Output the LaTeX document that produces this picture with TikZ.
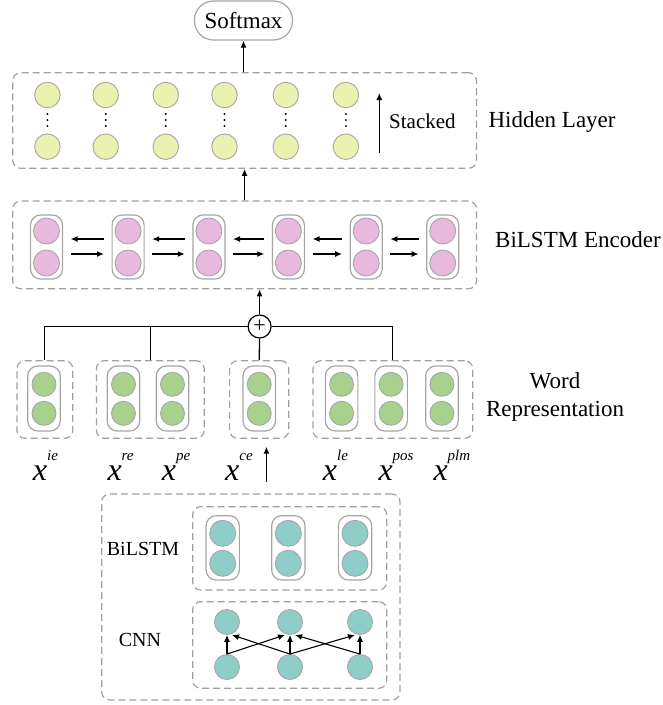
\documentclass[tikz,border=0pt]{standalone}
\usepackage{fontspec}
\setmainfont{LiberationSerif}[Extension=.ttf, UprightFont=*-Regular, ItalicFont=*-Italic, BoldFont=*-Bold]
\usetikzlibrary{arrows.meta,calc}
\definecolor{ylw}{RGB}{235,241,174}
\definecolor{pnk}{RGB}{232,184,221}
\definecolor{grn}{RGB}{169,209,142}
\definecolor{tea}{RGB}{143,205,201}
\definecolor{boxgray}{RGB}{160,160,160}
\definecolor{cellgray}{RGB}{166,166,166}
\begin{document}
\begin{tikzpicture}[x=1pt,y=-1pt,
  dbox/.style={draw=boxgray, line width=1.2pt, dash pattern=on 7pt off 4pt, rounded corners=8pt, inner sep=0},
  cellbox/.style={draw=cellgray, line width=1.2pt, rounded corners=10pt, inner sep=0},
  neuron/.style={circle, draw=cellgray, line width=0.9pt, inner sep=0},
  arr/.style={-{Latex[length=7pt,width=6pt]}, line width=1.3pt},
  conn/.style={line width=1.3pt},
  biglbl/.style={font=\fontsize{23}{23}\selectfont, inner sep=0},
  midlbl/.style={font=\fontsize{21}{21}\selectfont, inner sep=0},
  smalllbl/.style={font=\fontsize{20}{20}\selectfont, inner sep=0},
  xlbl/.style={inner sep=0, anchor=base west}
]
\useasboundingbox (0,0) rectangle (663,705);

% Softmax
\node[cellbox, rounded corners=19pt, minimum width=98pt, minimum height=39pt, font=\fontsize{23}{23}\selectfont] (soft) at (243.5,20.5) {Softmax};

% Hidden layer
\node[dbox, minimum width=463.8pt, minimum height=95.6pt] (hid) at (244.6,120.5) {};
\foreach \x [count=\i] in {47.4,105.7,165.8,224.5,285.8,345.9} {
  \node[neuron, fill=ylw, minimum size=25.5pt] (ht\i) at (\x,95) {};
  \node[neuron, fill=ylw, minimum size=25.5pt] (hb\i) at (\x,146.7) {};
  \foreach \yy [count=\k] in {114,120,126}
    \fill (\x,\yy) circle (1.1pt);
}
\coordinate (stA) at (379.3,153);
\coordinate (stB) at (379.3,93);
\draw[arr] (stA) -- (stB);
\node[midlbl, anchor=base west] (stk) at (389,128.7) {Stacked};
\node[biglbl, anchor=base west] (hl) at (488.3,127.3) {Hidden Layer};

% BiLSTM encoder
\node[dbox, minimum width=463.8pt, minimum height=87.7pt] (enc) at (244.6,244.85) {};
\foreach \x [count=\i] in {46.5,128.1,208.9,288.4,366.2,442.7} {
  \node[cellbox, minimum width=32pt, minimum height=64pt] (e\i) at (\x,247) {};
  \node[neuron, fill=pnk, minimum size=26pt] (et\i) at (\x,231) {};
  \node[neuron, fill=pnk, minimum size=26pt] (eb\i) at (\x,263) {};
}
\foreach \i [evaluate=\i as \j using int(\i+1)] in {1,...,5} {
  \draw[arr] ([xshift=-7.5pt,yshift=8pt]e\j.west) -- ([xshift=7.5pt,yshift=8pt]e\i.east);
  \draw[arr] ([xshift=7.5pt,yshift=-7pt]e\i.east) -- ([xshift=-7.5pt,yshift=-7pt]e\j.west);
}
\node[biglbl, anchor=base west] (bel) at (495,247.7) {BiLSTM Encoder};

% arrows between layers
\draw[arr] (enc.north) -- (hid.south);
\draw[arr] (hid.north -| soft.south) -- (soft.south);

% Word representation
\node[dbox, minimum width=55.8pt, minimum height=77.6pt] (g1) at (44.8,399.5) {};
\node[dbox, minimum width=107.8pt, minimum height=77.6pt] (g2) at (150.3,399.5) {};
\node[dbox, minimum width=59.2pt, minimum height=77.6pt] (g3) at (259.2,399.5) {};
\node[dbox, minimum width=159.8pt, minimum height=77.6pt] (g4) at (392.8,399.5) {};
\foreach \x [count=\i] in {44,123.5,172.5,259.2,341.6,391.1,441.9} {
  \node[cellbox, minimum width=32.5pt, minimum height=65pt] (w\i) at (\x,398.5) {};
  \node[neuron, fill=grn, minimum size=24pt] (wt\i) at (\x,384.3) {};
  \node[neuron, fill=grn, minimum size=24pt] (wb\i) at (\x,413.3) {};
}
\node[circle, draw, line width=1.2pt, minimum size=23pt, inner sep=0, font=\fontsize{22}{22}\selectfont] (plus) at (259.6,326.5) {+};
\draw[conn] (g1.north) |- (plus.west);
\draw[conn] (plus.east) -| (g4.north);
\draw[conn] (g2.north) -- (g2.north |- plus.center);
\draw[conn] (g3.north) -- (plus.south);
\draw[arr] (plus.north) -- (plus.north |- enc.south);
\node[biglbl, anchor=base] (wr1) at (555,388.3) {Word};
\node[biglbl, anchor=base] (wr2) at (555,416) {Representation};

% x labels
\newcommand{\xsup}[1]{{\fontsize{32}{32}\selectfont\itshape x}\raisebox{20pt}{\fontsize{15}{15}\selectfont\itshape #1}}
\node[xlbl] (xie) at (32.7,480) {\xsup{ie}};
\node[xlbl] (xre) at (107.3,480) {\xsup{re}};
\node[xlbl] (xpe) at (161.7,480) {\xsup{pe}};
\node[xlbl] (xce) at (225,480) {\xsup{ce}};
\node[xlbl] (xle) at (322.7,480) {\xsup{le}};
\node[xlbl] (xpos) at (378.3,480) {\xsup{pos}};
\node[xlbl] (xplm) at (433.3,480) {\xsup{plm}};
\coordinate (ceA) at (266.4,481.7);
\coordinate (ceB) at (266.4,446.7);
\draw[arr] (ceA) -- (ceB);

% Character-level block
\node[dbox, minimum width=298.3pt, minimum height=206pt] (outer) at (250.85,597) {};
\node[dbox, minimum width=194pt, minimum height=83.3pt] (cbl) at (289.7,548.35) {};
\node[dbox, minimum width=194pt, minimum height=86.6pt] (cnn) at (289.7,645) {};
\foreach \x [count=\i] in {222.7,288.3,355} {
  \node[cellbox, minimum width=33.3pt, minimum height=64.3pt] (c\i) at (\x,547.85) {};
  \node[neuron, fill=tea, minimum size=26pt] (ct\i) at (\x,533.3) {};
  \node[neuron, fill=tea, minimum size=26pt] (cb\i) at (\x,563.3) {};
}
\foreach \x [count=\i] in {227,290,360} {
  \node[neuron, fill=tea, minimum size=25pt] (nt\i) at (\x,622) {};
  \node[neuron, fill=tea, minimum size=25pt] (nb\i) at (\x,667) {};
}
\foreach \i in {1,2,3} \draw[arr, line width=1.1pt] (nb\i.north) -- (nt\i.south);
\draw[arr, line width=1.1pt] (nb1.north) -- ([xshift=-5pt]nt2.south);
\draw[arr, line width=1.1pt] (nb2.north) -- ([xshift=5pt]nt1.south);
\draw[arr, line width=1.1pt] (nb2.north) -- ([xshift=-5pt]nt3.south);
\draw[arr, line width=1.1pt] (nb3.north) -- ([xshift=5pt]nt2.south);
\node[smalllbl, anchor=base] (lbil) at (143,555) {BiLSTM};
\node[smalllbl, anchor=base] (lcnn) at (140,646.7) {CNN};
\end{tikzpicture}
\end{document}
